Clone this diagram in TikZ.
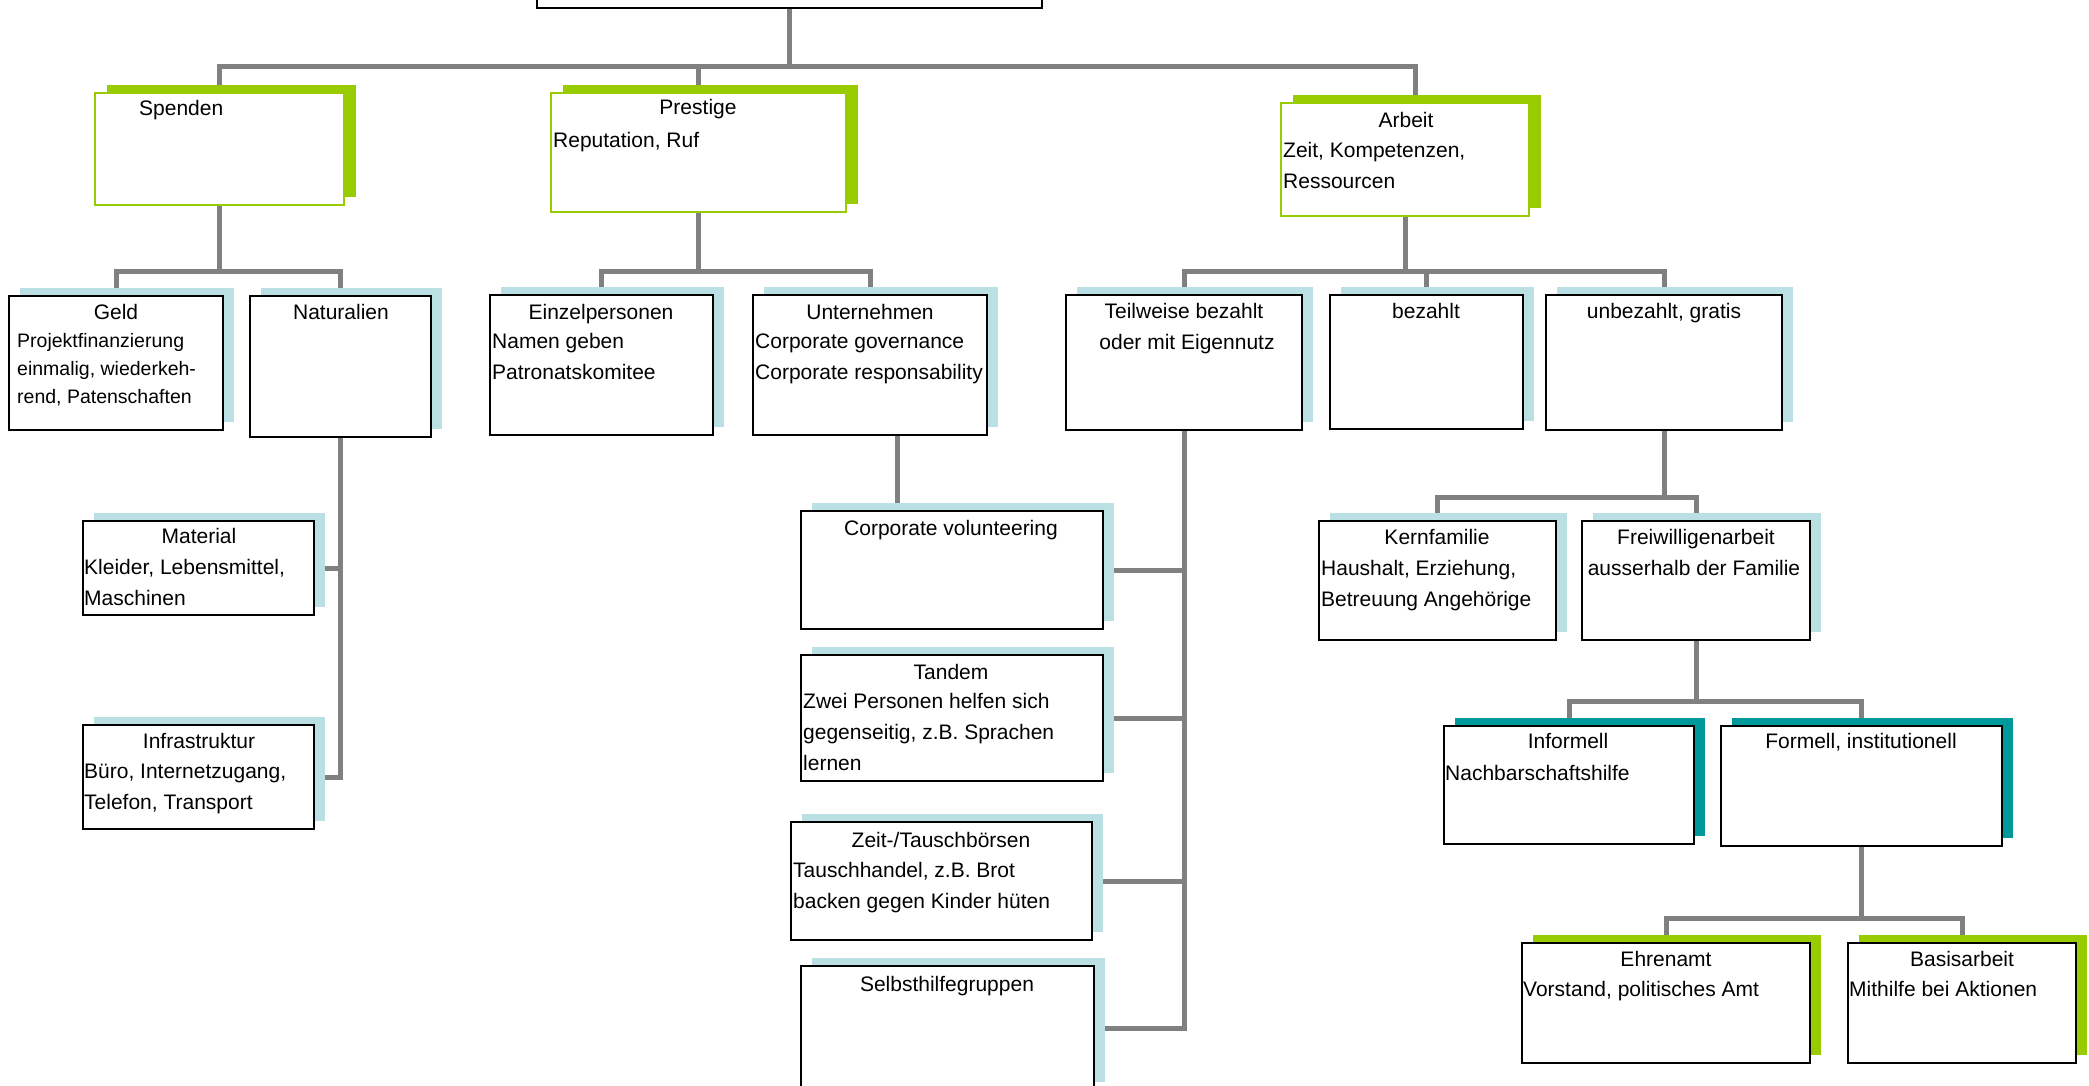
\documentclass[tikz,border=0pt]{standalone}
\usepackage{fontspec}
\setmainfont{Liberation Sans}
\usetikzlibrary{shadows,calc,backgrounds}
\definecolor{lgreen}{HTML}{99CC00}
\definecolor{lblue}{HTML}{BBE0E3}
\definecolor{tealsh}{HTML}{009999}
\definecolor{conngray}{HTML}{808080}
\newcommand\nfont{\fontsize{21}{31}\selectfont}
\newcommand\sfont{\fontsize{19.5}{28}\selectfont}
\newcommand\mkbox[6]{\node[#6, minimum width={#4-#2}, minimum height={#5-#3}] (#1) at ({(#2+#4)/2},{(#3+#5)/2}) {};}
\tikzset{
  conn/.style={draw=conngray, line width=5pt},
  bxbase/.style={fill=white, inner sep=0pt, outer sep=0pt, anchor=center, line width=2pt},
  blk/.style={bxbase, draw=black, copy shadow={shadow xshift=11pt, shadow yshift=8pt, fill=#1, draw=none}},
  grn/.style={bxbase, draw=lgreen, line width=1.6pt, copy shadow={shadow xshift=12pt, shadow yshift=8pt, fill=lgreen, draw=none}},
  ttl/.style={anchor=base, inner sep=0pt, font=\nfont},
  ttlw/.style={anchor=base west, inner sep=0pt, font=\nfont},
  body/.style={anchor=north west, inner sep=0pt, align=left, font=\nfont},
  sbody/.style={anchor=north west, inner sep=0pt, align=left, font=\sfont},
}
\begin{document}
\begin{tikzpicture}[x=1pt, y=-1pt]
\clip (0,0) rectangle (2089,1086);
% bus levels
\coordinate (yA) at (0,67);
\coordinate (yB) at (0,272);
\coordinate (yC) at (0,497);
\coordinate (yD) at (0,701);
\coordinate (yE) at (0,918);
\coordinate (arbin) at (1415,95);
\coordinate (cvtop) at (897,511);
% --- boxes
\mkbox{top}{537}{-100}{1042}{8}{blk=tealsh}
\mkbox{spenden}{95}{93}{344}{205}{grn}
\mkbox{prestige}{551}{93}{846}{212}{grn}
\mkbox{arbeit}{1281}{103}{1529}{216}{grn}
\mkbox{geld}{9}{296}{223}{430}{blk=lblue}
\mkbox{natur}{250}{296}{431}{437}{blk=lblue}
\mkbox{einzel}{490}{295}{713}{435}{blk=lblue}
\mkbox{unter}{753}{295}{987}{435}{blk=lblue}
\mkbox{teil}{1066}{295}{1302}{430}{blk=lblue}
\mkbox{bez}{1330}{295}{1523}{429}{blk=lblue}
\mkbox{unbez}{1546}{295}{1782}{430}{blk=lblue}
\mkbox{material}{83}{521}{314}{615}{blk=lblue}
\mkbox{infra}{83}{725}{314}{829}{blk=lblue}
\mkbox{cv}{801}{511}{1103}{629}{blk=lblue}
\mkbox{tandem}{801}{655}{1103}{781}{blk=lblue}
\mkbox{zeit}{791}{822}{1092}{940}{blk=lblue}
\mkbox{selbst}{801}{966}{1094}{1090}{blk=lblue}
\mkbox{kern}{1319}{521}{1556}{640}{blk=lblue}
\mkbox{frei}{1582}{521}{1810}{640}{blk=lblue}
\mkbox{inform}{1444}{726}{1694}{844}{blk=tealsh}
\mkbox{formell}{1721}{726}{2002}{846}{blk=tealsh}
\mkbox{ehren}{1522}{943}{1810}{1063}{blk=lgreen}
\mkbox{basis}{1848}{943}{2076}{1063}{blk=lgreen}
% --- connectors (behind the boxes)
\begin{scope}[on background layer]
\fill[white] (0,0) rectangle (2089,1086);
\draw[conn] (top.south) -- (top.south |- yA);
\draw[conn] (spenden.north) -- (spenden.north |- yA) -- (arbin |- yA) -- (arbin);
\draw[conn] (prestige.north) -- (prestige.north |- yA);
\draw[conn] (spenden.south) -- (spenden.south |- yB);
\draw[conn] (geld.north) -- (geld.north |- yB) -- (natur.north |- yB) -- (natur.north);
\draw[conn] (prestige.south) -- (prestige.south |- yB);
\draw[conn] (einzel.north) -- (einzel.north |- yB) -- (unter.north |- yB) -- (unter.north);
\draw[conn] (arbeit.south) -- (arbeit.south |- yB);
\draw[conn] (teil.north) -- (teil.north |- yB) -- (unbez.north |- yB) -- (unbez.north);
\draw[conn] (bez.north) -- (bez.north |- yB);
\draw[conn] (natur.south) |- (infra.east);
\draw[conn] (material.east) -- (material.east -| natur.south);
\draw[conn] (cvtop |- unter.south) -- (cvtop);
\draw[conn] (teil.south) |- (selbst.east);
\draw[conn] (cv.east) -- (cv.east -| teil.south);
\draw[conn] (tandem.east) -- (tandem.east -| teil.south);
\draw[conn] (zeit.east) -- (zeit.east -| teil.south);
\draw[conn] (unbez.south) -- (unbez.south |- yC);
\draw[conn] (kern.north) -- (kern.north |- yC) -- (frei.north |- yC) -- (frei.north);
\draw[conn] (frei.south) -- (frei.south |- yD);
\draw[conn] (inform.north) -- (inform.north |- yD) -- (formell.north |- yD) -- (formell.north);
\draw[conn] (formell.south) -- (formell.south |- yE);
\draw[conn] (ehren.north) -- (ehren.north |- yE) -- (basis.north |- yE) -- (basis.north);
\end{scope}
% --- texts
\node[ttlw] (t1) at (139,116) {Spenden};
\node[ttl] (t2) at (698,115) {Prestige};
\node[body] (b2) at (553,125.3) {\strut Reputation, Ruf};
\node[ttl] (t3) at (1406,128) {Arbeit};
\node[body] (b3) at (1283,135.3) {\strut Zeit, Kompetenzen,\\Ressourcen};
\node[ttl] (t4) at (116,319) {Geld};
\node[sbody] (b4) at (17,327.4) {\strut Projektfinanzierung\\einmalig, wiederkeh-\\rend, Patenschaften};
\node[ttl] (t5) at (341,319) {Naturalien};
\node[ttl] (t6) at (601,319) {Einzelpersonen};
\node[body] (b6) at (492,326.3) {\strut Namen geben\\Patronatskomitee};
\node[ttl] (t7) at (870,319) {Unternehmen};
\node[body] (b7) at (755,326.3) {\strut Corporate governance\\Corporate responsability};
\node[ttl] (t8) at (1184,318) {Teilweise bezahlt};
\node[ttl] (t8b) at (1187,349) {oder mit Eigennutz};
\node[ttl] (t9) at (1426,318) {bezahlt};
\node[ttl] (t10) at (1664,318) {unbezahlt, gratis};
\node[ttl] (t11) at (199,543) {Material};
\node[body] (b11) at (84,552.3) {\strut Kleider, Lebensmittel,\\Maschinen};
\node[ttl] (t12) at (199,748) {Infrastruktur};
\node[body] (b12) at (84,756.3) {\strut Büro, Internetzugang,\\Telefon, Transport};
\node[ttl] (t13) at (951,535) {Corporate volunteering};
\node[ttl] (t14) at (951,679) {Tandem};
\node[body] (b14) at (803,686.3) {\strut Zwei Personen helfen sich\\gegenseitig, z.B. Sprachen\\lernen};
\node[ttl] (t15) at (941,847) {Zeit-/Tauschbörsen};
\node[body] (b15) at (793,855.3) {\strut Tauschhandel, z.B. Brot\\backen gegen Kinder hüten};
\node[ttl] (t16) at (947,991) {Selbsthilfegruppen};
\node[ttl] (t17) at (1437,544) {Kernfamilie};
\node[body] (b17) at (1321,553.3) {\strut Haushalt, Erziehung,\\Betreuung Angehörige};
\node[ttl] (t18) at (1696,544) {Freiwilligenarbeit};
\node[ttl] (t18b) at (1694,575) {ausserhalb der Familie};
\node[ttl] (t19) at (1568,748) {Informell};
\node[body] (b19) at (1445,758.3) {\strut Nachbarschaftshilfe};
\node[ttl] (t20) at (1861,748) {Formell, institutionell};
\node[ttl] (t21) at (1666,966) {Ehrenamt};
\node[body] (b21) at (1523,974.3) {\strut Vorstand, politisches Amt};
\node[ttl] (t22) at (1962,966) {Basisarbeit};
\node[body] (b22) at (1849,974.3) {\strut Mithilfe bei Aktionen};
\end{tikzpicture}
\end{document}
